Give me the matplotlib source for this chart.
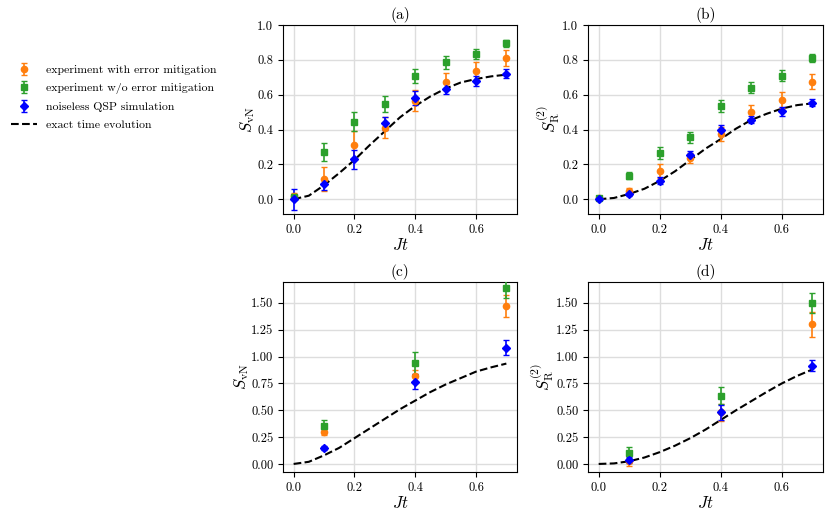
import matplotlib
matplotlib.use("Agg")
import matplotlib.pyplot as plt
import numpy as np

plt.rcParams['font.family'] = 'serif'
plt.rcParams['font.serif'] = ['cmr10', 'DejaVu Serif']
plt.rcParams['mathtext.fontset'] = 'cm'
plt.rcParams['axes.formatter.use_mathtext'] = True
plt.rcParams['font.size'] = 10

# 時間軸
jt_full = [0.0, 0.1, 0.2, 0.3, 0.4, 0.5, 0.6, 0.7]
jt_sparse = [0.1, 0.4, 0.7]
jt_exact = [0.0, 0.05, 0.1, 0.15, 0.2, 0.25, 0.3, 0.35, 0.4, 0.45, 0.5, 0.55, 0.6, 0.65, 0.7]

# (a) S_vN
a_mit = [0.02, 0.115, 0.31, 0.41, 0.565, 0.675, 0.735, 0.81]
a_mit_err = [0.015, 0.07, 0.08, 0.06, 0.06, 0.05, 0.05, 0.045]
a_raw = [0.015, 0.27, 0.445, 0.545, 0.705, 0.785, 0.835, 0.895]
a_raw_err = [0.01, 0.05, 0.055, 0.045, 0.04, 0.035, 0.03, 0.02]
a_qsp = [0.0, 0.085, 0.23, 0.435, 0.58, 0.635, 0.68, 0.72]
a_qsp_err = [0.06, 0.03, 0.055, 0.035, 0.04, 0.03, 0.03, 0.025]
a_exact = [0.0, 0.02, 0.08, 0.15, 0.225, 0.31, 0.39, 0.47, 0.535, 0.59, 0.635, 0.67, 0.69, 0.705, 0.715]

# (b) S_R^(2)
b_mit = [0.005, 0.045, 0.16, 0.235, 0.375, 0.5, 0.57, 0.675]
b_mit_err = [0.01, 0.02, 0.04, 0.03, 0.04, 0.04, 0.045, 0.045]
b_raw = [0.005, 0.135, 0.265, 0.355, 0.535, 0.64, 0.71, 0.81]
b_raw_err = [0.01, 0.02, 0.035, 0.03, 0.035, 0.03, 0.03, 0.025]
b_qsp = [0.0, 0.03, 0.105, 0.255, 0.395, 0.455, 0.505, 0.555]
b_qsp_err = [0.005, 0.01, 0.02, 0.02, 0.03, 0.02, 0.025, 0.02]
b_exact = [0.0, 0.007, 0.03, 0.06, 0.105, 0.16, 0.225, 0.29, 0.345, 0.405, 0.455, 0.49, 0.52, 0.54, 0.55]

# (c) S_vN
c_mit = [0.30, 0.815, 1.47]
c_mit_err = [0.03, 0.06, 0.10]
c_raw = [0.355, 0.94, 1.635]
c_raw_err = [0.055, 0.10, 0.09]
c_qsp = [0.15, 0.767, 1.082]
c_qsp_err = [0.02, 0.07, 0.07]
c_exact = [0.0, 0.02, 0.08, 0.15, 0.24, 0.33, 0.42, 0.51, 0.59, 0.67, 0.74, 0.80, 0.86, 0.90, 0.935]

# (d) S_R^(2)
d_mit = [0.028, 0.48, 1.30]
d_mit_err = [0.05, 0.08, 0.12]
d_raw = [0.106, 0.636, 1.50]
d_raw_err = [0.05, 0.08, 0.09]
d_qsp = [0.035, 0.48, 0.917]
d_qsp_err = [0.03, 0.07, 0.05]
d_exact = [0.0, 0.005, 0.025, 0.06, 0.11, 0.17, 0.24, 0.32, 0.41, 0.5, 0.585, 0.67, 0.75, 0.82, 0.88]

labels = ['experiment with error mitigation', 'experiment w/o error mitigation',
          'noiseless QSP simulation', 'exact time evolution']

fig = plt.figure(figsize=(8.31, 5.16), dpi=100)
W, H = 831, 516
boxes = [(283, 25, 517, 214), (588, 25, 823, 214), (283, 282, 517, 472), (588, 282, 823, 472)]
axes = [fig.add_axes([l / W, 1 - b / H, (r - l) / W, (b - t) / H]) for l, t, r, b in boxes]

panels = [
    ('(a)', r'$S_{\rm vN}$', jt_full, a_mit, a_mit_err, a_raw, a_raw_err, a_qsp, a_qsp_err, a_exact),
    ('(b)', r'$S_{\rm R}^{(2)}$', jt_full, b_mit, b_mit_err, b_raw, b_raw_err, b_qsp, b_qsp_err, b_exact),
    ('(c)', r'$S_{\rm vN}$', jt_sparse, c_mit, c_mit_err, c_raw, c_raw_err, c_qsp, c_qsp_err, c_exact),
    ('(d)', r'$S_{\rm R}^{(2)}$', jt_sparse, d_mit, d_mit_err, d_raw, d_raw_err, d_qsp, d_qsp_err, d_exact),
]

handles = None
for i, (ax, p) in enumerate(zip(axes, panels)):
    title, ylab, x, mit, mit_e, raw, raw_e, qsp, qsp_e, exact = p
    ax.grid(True, color='#dddddd', linewidth=1.0, zorder=0)
    ax.set_axisbelow(True)
    h1 = ax.errorbar(x, mit, yerr=mit_e, fmt='o', color='#ff7f0e', ms=4.5, capsize=2, elinewidth=1.2, zorder=3)
    h2 = ax.errorbar(x, raw, yerr=raw_e, fmt='s', color='#2ca02c', ms=4.5, capsize=2, elinewidth=1.2, zorder=3)
    h3 = ax.errorbar(x, qsp, yerr=qsp_e, fmt='D', color='blue', ms=4.5, capsize=2, elinewidth=1.2, zorder=3)
    h4, = ax.plot(jt_exact, exact, '--', color='black', lw=1.5, zorder=2)
    ax.set_title(title, fontsize=11, pad=4)
    ax.set_xlabel(r'$Jt$', fontsize=12, labelpad=1)
    ax.set_ylabel(ylab, fontsize=12, labelpad=0)
    ax.set_xlim(-0.035, 0.735)
    ax.set_xticks([0.0, 0.2, 0.4, 0.6])
    if i < 2:
        ax.set_ylim(-0.085, 1.0)
        ax.set_yticks([0.0, 0.2, 0.4, 0.6, 0.8, 1.0])
        ax.yaxis.set_major_formatter(matplotlib.ticker.FormatStrFormatter('%.1f'))
    else:
        ax.set_ylim(-0.075, 1.695)
        ax.set_yticks([0.0, 0.25, 0.5, 0.75, 1.0, 1.25, 1.5])
        ax.yaxis.set_major_formatter(matplotlib.ticker.FormatStrFormatter('%.2f'))
    ax.xaxis.set_major_formatter(matplotlib.ticker.FormatStrFormatter('%.1f'))
    ax.tick_params(labelsize=9)
    if handles is None:
        handles = [h1, h2, h3, h4]

fig.legend(handles, labels, loc='upper left', bbox_to_anchor=(0.0, 0.895),
           frameon=False, fontsize=8.5, handlelength=2.2, labelspacing=0.65)

fig.savefig('out.png', dpi=100)
